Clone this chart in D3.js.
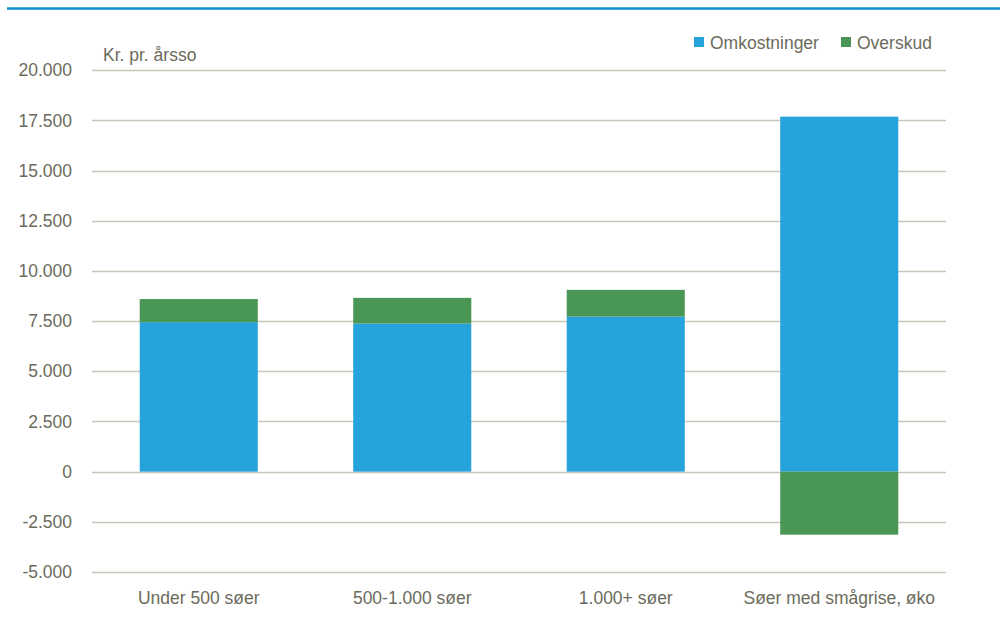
<!DOCTYPE html>
<html>
<head>
<meta charset="utf-8">
<script src="https://cdn.jsdelivr.net/npm/d3@7"></script>
<style>
  html, body { margin: 0; padding: 0; background: #fff; }
  svg { display: block; }
  text { font-family: "Liberation Sans", Arial, sans-serif; fill: #6b6b5c; }
</style>
</head>
<body>
<svg id="chart" width="1000" height="623"></svg>
<script>
const categories = ["Under 500 søer", "500-1.000 søer", "1.000+ søer", "Søer med smågrise, øko"];
const omkostninger = [7450, 7380, 7730, 17690];
const overskud = [1150, 1280, 1330, -3140];
const seriesNames = ["Omkostninger", "Overskud"];
const seriesColors = ["#27a3dc", "#4a9654"];
const yTicks = [-5000, -2500, 0, 2500, 5000, 7500, 10000, 12500, 15000, 17500, 20000];
const yLabel = "Kr. pr. årsso";

const svg = d3.select("#chart");
const W = 1000, H = 623;
const margin = { left: 92, right: 54, top: 70.3, bottom: 51 };
const plotL = margin.left, plotR = W - margin.right;

const locale = d3.formatLocale({ decimal: ",", thousands: ".", grouping: [3], currency: ["", ""], minus: "-" });
const fmt = locale.format(",d");

const x = d3.scaleBand().domain(categories).range([plotL, plotR]).paddingInner(0.447).paddingOuter(0.2235);
const y = d3.scaleLinear().domain([-5000, 20000]).range([572, 70.3]);

// top accent line
svg.append("line").attr("x1", 7).attr("x2", 1000).attr("y1", 8.5).attr("y2", 8.5)
  .attr("stroke", "#0a8fd0").attr("stroke-width", 2.5);

// gridlines
svg.append("g").selectAll("line").data(yTicks).join("line")
  .attr("x1", plotL).attr("x2", plotR)
  .attr("y1", d => Math.round(y(d)) + 0.5).attr("y2", d => Math.round(y(d)) + 0.5)
  .attr("stroke", "#c9c7bc").attr("stroke-width", 1.3);

// y axis labels
const yAxis = d3.axisLeft(y).tickValues(yTicks).tickFormat(fmt).tickSize(0).tickPadding(20);
const yg = svg.append("g").attr("transform", `translate(${plotL},0)`).call(yAxis);
yg.select(".domain").remove();
yg.selectAll("text").attr("font-size", "17.5px").style("fill", "#6b6b5c")
  .attr("font-family", "Liberation Sans, Arial, sans-serif");

// stacked data
const rows = categories.map((c, i) => ({ cat: c, Omkostninger: omkostninger[i], Overskud: overskud[i] }));
const stack = d3.stack().keys(seriesNames).offset(d3.stackOffsetDiverging);
const layers = stack(rows);

svg.append("g").selectAll("g").data(layers).join("g")
  .attr("fill", (d, i) => seriesColors[i])
  .selectAll("rect").data(d => d).join("rect")
  .attr("x", d => x(d.data.cat))
  .attr("width", x.bandwidth())
  .attr("y", d => y(Math.max(d[0], d[1])))
  .attr("height", d => Math.abs(y(d[0]) - y(d[1])));

// x axis labels
const xAxis = d3.axisBottom(x).tickSize(0).tickPadding(0);
const xg = svg.append("g").attr("transform", `translate(0,592)`).call(xAxis);
xg.select(".domain").remove();
xg.selectAll("text").attr("font-size", "17.5px").style("fill", "#6b6b5c")
  .attr("font-family", "Liberation Sans, Arial, sans-serif").attr("dy", "0.71em");

// y label
svg.append("text").attr("x", 103).attr("y", 60.5).attr("font-size", "17.5px").text(yLabel);

// legend
const legendX = [694, 841];
const lg = svg.append("g").selectAll("g").data(seriesNames).join("g")
  .attr("transform", (d, i) => `translate(${legendX[i]},0)`);
lg.append("rect").attr("x", 0).attr("y", 37).attr("width", 10).attr("height", 10)
  .attr("fill", (d, i) => seriesColors[i]);
lg.append("text").attr("x", 16).attr("y", 48.5).attr("font-size", "17.5px").text(d => d);
</script>
</body>
</html>
